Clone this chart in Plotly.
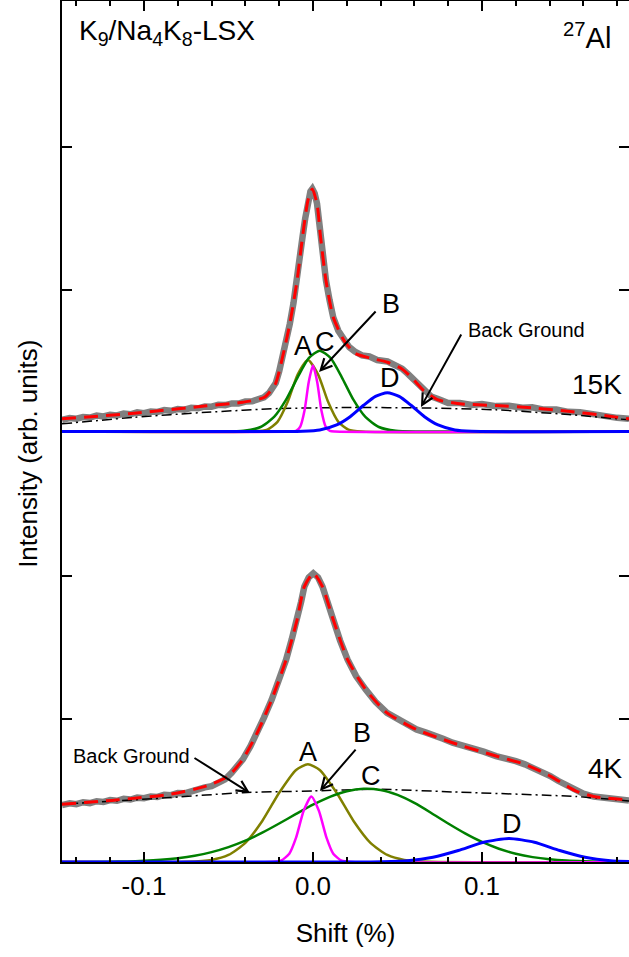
import plotly.graph_objects as go

# ---------------- data ----------------
OFFSET = 3.01   # vertical offset of the 15K spectrum
X_RANGE = [-0.1485, 0.187]
Y_RANGE = [0.0, 6.021]

# 15K measured data (gray)
up_data_x = [-0.1485, -0.144, -0.140, -0.136, -0.132, -0.128, -0.124, -0.120, -0.116, -0.112,
             -0.108, -0.104, -0.100, -0.096, -0.092, -0.088, -0.084, -0.080, -0.076, -0.072,
             -0.068, -0.064, -0.060, -0.056, -0.052, -0.048, -0.044, -0.040, -0.036, -0.032,
             -0.029, -0.026, -0.024, -0.022, -0.020, -0.018, -0.016, -0.0137, -0.0115, -0.0094,
             -0.0078, -0.0062, -0.0046, -0.0030, -0.0015, -0.0004, 0.0010, 0.0024, 0.0035, 0.0045,
             0.0060, 0.0077, 0.0098, 0.0120, 0.0150, 0.0184, 0.0215, 0.0248, 0.029, 0.0334,
             0.038, 0.0441, 0.049, 0.0527, 0.056, 0.0591, 0.062, 0.0655, 0.070, 0.0741,
             0.080, 0.0869, 0.094, 0.100, 0.1083, 0.116, 0.124, 0.1297, 0.136, 0.144,
             0.1511, 0.158, 0.166, 0.1725, 0.180, 0.187]
up_data_y = [0.082, 0.095, 0.090, 0.101, 0.098, 0.112, 0.106, 0.118, 0.113, 0.126,
             0.121, 0.134, 0.129, 0.141, 0.137, 0.150, 0.145, 0.158, 0.153, 0.166,
             0.163, 0.176, 0.174, 0.187, 0.185, 0.197, 0.196, 0.210, 0.212, 0.228,
             0.240, 0.270, 0.300, 0.340, 0.420, 0.520, 0.630, 0.753, 0.900, 1.056,
             1.210, 1.359, 1.490, 1.615, 1.680, 1.697, 1.665, 1.594, 1.480, 1.359,
             1.200, 1.056, 0.920, 0.799, 0.705, 0.636, 0.590, 0.560, 0.533, 0.525,
             0.500, 0.490, 0.460, 0.440, 0.405, 0.372, 0.330, 0.290, 0.245, 0.228,
             0.200, 0.200, 0.186, 0.192, 0.178, 0.180, 0.166, 0.170, 0.155, 0.154,
             0.138, 0.136, 0.118, 0.114, 0.096, 0.090]

# 15K fit (red dashed)
up_fit_x = [-0.1485, -0.1057, -0.0629, -0.0415, -0.0287, -0.0222, -0.0180, -0.0137, -0.0094, -0.0062,
            -0.0030, -0.0004, 0.0024, 0.0045, 0.0077, 0.0120, 0.0184, 0.0248, 0.0334, 0.0441,
            0.0527, 0.0591, 0.0655, 0.0741, 0.0869, 0.1083, 0.1297, 0.1511, 0.1725, 0.187]
up_fit_y = [0.089, 0.128, 0.180, 0.205, 0.240, 0.334, 0.520, 0.753, 1.056, 1.359,
            1.615, 1.697, 1.594, 1.359, 1.056, 0.799, 0.636, 0.548, 0.515, 0.485,
            0.438, 0.369, 0.287, 0.222, 0.194, 0.182, 0.166, 0.142, 0.112, 0.089]

# 15K background (dash-dot)
up_bg_x = [-0.1485, -0.1057, -0.0629, -0.0201, 0.0227, 0.0655, 0.1083, 0.1511, 0.187]
up_bg_y = [0.054, 0.100, 0.135, 0.161, 0.168, 0.165, 0.152, 0.119, 0.082]

# 15K components
up_A_x = [-0.150, -0.035, -0.027, -0.021, -0.015, -0.009, -0.003, 0.003, 0.009, 0.015, 0.021, 0.029, 0.190]
up_A_y = [0.0, 0.001, 0.014, 0.068, 0.206, 0.400, 0.500, 0.400, 0.206, 0.068, 0.014, 0.001, 0.0]
up_B_x = [-0.150, -0.013, -0.010, -0.0075, -0.005, -0.0025, 0.0, 0.0025, 0.005, 0.0075, 0.010, 0.013, 0.190]
up_B_y = [0.0, 0.0, 0.005, 0.035, 0.147, 0.347, 0.462, 0.347, 0.147, 0.035, 0.005, 0.0, 0.0]
up_C_x = [-0.150, -0.055, -0.041, -0.031, -0.023, -0.016, -0.009, -0.0025, 0.004, 0.0105, 0.017,
          0.024, 0.031, 0.039, 0.049, 0.063, 0.190]
up_C_y = [0.0, 0.0, 0.005, 0.032, 0.102, 0.221, 0.381, 0.513, 0.566, 0.513, 0.381,
          0.221, 0.102, 0.032, 0.005, 0.0, 0.0]
up_D_x = [-0.150, -0.016, -0.006, 0.004, 0.014, 0.022, 0.030, 0.037, 0.044, 0.051, 0.058,
          0.066, 0.074, 0.084, 0.094, 0.190]
up_D_y = [0.0, 0.0, 0.002, 0.011, 0.046, 0.104, 0.184, 0.246, 0.271, 0.246, 0.184,
          0.104, 0.046, 0.011, 0.002, 0.0]

# 4K measured data (gray)
lo_data_x = [-0.1485, -0.144, -0.140, -0.136, -0.132, -0.128, -0.124, -0.120, -0.116, -0.112,
             -0.108, -0.104, -0.100, -0.096, -0.092, -0.088, -0.084, -0.080, -0.076, -0.072,
             -0.068, -0.064, -0.060, -0.056, -0.052, -0.048, -0.0445, -0.0415, -0.037, -0.033,
             -0.029, -0.0244, -0.020, -0.0159, -0.0125, -0.0094, -0.007, -0.0051, -0.0025, 0.0002,
             0.0030, 0.0056, 0.0090, 0.0120, 0.0160, 0.0205, 0.0255, 0.0312, 0.037, 0.0438,
             0.0520, 0.0612, 0.067, 0.072, 0.077, 0.0826, 0.088, 0.095, 0.101, 0.1083,
             0.114, 0.120, 0.1254, 0.130, 0.135, 0.1404, 0.145, 0.150, 0.1554, 0.160,
             0.1661, 0.172, 0.177, 0.182, 0.187]
lo_data_y = [0.398, 0.410, 0.404, 0.418, 0.412, 0.425, 0.420, 0.433, 0.428, 0.442,
             0.437, 0.450, 0.446, 0.458, 0.455, 0.470, 0.467, 0.482, 0.480, 0.497,
             0.502, 0.522, 0.530, 0.556, 0.578, 0.625, 0.670, 0.718, 0.810, 0.903,
             1.010, 1.136, 1.280, 1.415, 1.560, 1.694, 1.820, 1.926, 1.990, 2.019,
             1.990, 1.926, 1.800, 1.694, 1.550, 1.415, 1.300, 1.206, 1.120, 1.043,
             0.985, 0.927, 0.905, 0.878, 0.862, 0.834, 0.818, 0.790, 0.772, 0.741,
             0.728, 0.705, 0.683, 0.660, 0.635, 0.601, 0.568, 0.535, 0.497, 0.478,
             0.458, 0.448, 0.445, 0.438, 0.430]

# 4K fit (red dashed)
lo_fit_x = [-0.1485, -0.1164, -0.0843, -0.0629, -0.0501, -0.0415, -0.0330, -0.0244, -0.0159, -0.0094,
            -0.0051, 0.0002, 0.0056, 0.0120, 0.0205, 0.0312, 0.0438, 0.0612, 0.0826, 0.1083,
            0.1254, 0.1404, 0.1554, 0.1661, 0.187]
lo_fit_y = [0.404, 0.434, 0.474, 0.532, 0.601, 0.718, 0.903, 1.136, 1.415, 1.694,
            1.926, 2.019, 1.926, 1.694, 1.415, 1.206, 1.043, 0.927, 0.834, 0.741,
            0.683, 0.601, 0.497, 0.458, 0.434]

# 4K background (dash-dot)
lo_bg_x = [-0.1485, -0.0843, -0.0415, 0.0002, 0.0366, 0.0827, 0.1554, 0.187]
lo_bg_y = [0.404, 0.451, 0.485, 0.497, 0.509, 0.490, 0.458, 0.427]

# 4K components
lo_A_x = [-0.150, -0.075, -0.060, -0.050, -0.040, -0.030, -0.020, -0.010, -0.003, 0.004, 0.014,
          0.024, 0.034, 0.044, 0.054, 0.069, 0.190]
lo_A_y = [0.0, 0.001, 0.014, 0.049, 0.134, 0.287, 0.484, 0.644, 0.683, 0.644, 0.484,
          0.287, 0.134, 0.049, 0.014, 0.001, 0.0]
lo_B_x = [-0.150, -0.025, -0.019, -0.014, -0.010, -0.0055, -0.001, 0.0035, 0.008, 0.012, 0.017, 0.023, 0.190]
lo_B_y = [0.0, 0.0, 0.009, 0.058, 0.170, 0.358, 0.458, 0.358, 0.170, 0.058, 0.009, 0.0, 0.0]
lo_C_x = [-0.150, -0.120, -0.110, -0.100, -0.090, -0.080, -0.070, -0.060, -0.050, -0.040,
          -0.030, -0.020, -0.010, 0.000, 0.010, 0.020, 0.030, 0.040, 0.050, 0.060,
          0.070, 0.080, 0.090, 0.100, 0.110, 0.120, 0.130, 0.140, 0.150, 0.160,
          0.170, 0.180, 0.190]
lo_C_y = [0.0, 0.002, 0.004, 0.008, 0.015, 0.026, 0.043, 0.069, 0.104, 0.149,
          0.205, 0.269, 0.336, 0.401, 0.456, 0.495, 0.512, 0.504, 0.469, 0.413,
          0.343, 0.269, 0.200, 0.140, 0.093, 0.058, 0.034, 0.019, 0.010, 0.005,
          0.002, 0.001, 0.0]
lo_D_x = [-0.150, 0.030, 0.041, 0.056, 0.071, 0.086, 0.101, 0.116, 0.131, 0.146, 0.161, 0.176, 0.190]
lo_D_y = [0.0, 0.0, 0.002, 0.009, 0.033, 0.080, 0.138, 0.165, 0.138, 0.080, 0.033, 0.009, 0.002]

# ---------------- styles ----------------
GRAY = '#808080'
RED = '#FF0000'
OLIVE = '#808000'
GREEN = '#008000'
MAGENTA = '#FF00FF'
BLUE = '#0000FF'
FONT = 'Liberation Sans, Arial, sans-serif'

fig = go.Figure()


def add(x, y, color, width, dash=None, shape='spline', off=0.0):
    fig.add_trace(go.Scatter(
        x=x, y=[v + off for v in y], mode='lines',
        line=dict(color=color, width=width, dash=dash, shape=shape, smoothing=0.6),
        showlegend=False, hoverinfo='skip'))


for (dx, dy, fx, fy, bx, by, ax_, ay_, cx, cy, bbx, bby, ddx, ddy, off) in [
    (lo_data_x, lo_data_y, lo_fit_x, lo_fit_y, lo_bg_x, lo_bg_y,
     lo_A_x, lo_A_y, lo_C_x, lo_C_y, lo_B_x, lo_B_y, lo_D_x, lo_D_y, 0.0),
    (up_data_x, up_data_y, up_fit_x, up_fit_y, up_bg_x, up_bg_y,
     up_A_x, up_A_y, up_C_x, up_C_y, up_B_x, up_B_y, up_D_x, up_D_y, OFFSET),
]:
    add(dx, dy, GRAY, 6.5, shape='linear', off=off)
    add(bx, by, 'black', 1.5, dash='10px,4px,2px,4px', off=off)
    add(fx, fy, RED, 3, dash='14px,8px', off=off)
    add(ax_, ay_, OLIVE, 2.5, off=off)
    add(cx, cy, GREEN, 2.5, off=off)
    add(bbx, bby, MAGENTA, 2.5, off=off)
    add(ddx, ddy, BLUE, 3, off=off)

# dummy trace for right-side mirrored ticks
fig.add_trace(go.Scatter(x=[None], y=[None], yaxis='y2', showlegend=False, hoverinfo='skip'))


def lab(x, y, text, size=27, xanchor='center'):
    fig.add_annotation(x=x, y=y, xref='x', yref='y', text=text, showarrow=False,
                       font=dict(size=size, family=FONT, color='black'), xanchor=xanchor, yanchor='middle')


def arrow(tx, ty, hx, hy):
    fig.add_annotation(x=hx, y=hy, ax=tx, ay=ty, xref='x', yref='y', axref='x', ayref='y',
                       text='', showarrow=True, arrowhead=5, arrowsize=1.1, arrowwidth=2,
                       arrowcolor='black', standoff=0, startstandoff=0)


# labels (upper panel)
lab(-0.0059, 3.608, 'A')
lab(0.0071, 3.636, 'C')
lab(0.0462, 3.902, 'B')
lab(0.0456, 3.385, 'D')
lab(0.1266, 3.720, 'Back Ground', size=20)
lab(0.168, 3.336, '15K', size=28)
arrow(0.0379, 3.860, 0.0036, 3.427)
arrow(0.0882, 3.699, 0.0639, 3.182)

# labels (lower panel)
lab(-0.0030, 0.769, 'A')
lab(0.0290, 0.902, 'B')
lab(0.0343, 0.601, 'C')
lab(0.1178, 0.266, 'D')
lab(-0.1071, 0.741, 'Back Ground', size=20)
lab(0.1728, 0.657, '4K', size=28)
arrow(0.0260, 0.797, 0.0041, 0.497)
arrow(-0.0710, 0.734, -0.0373, 0.483)

# title-like labels
lab(-0.1396, 5.80, 'K<sub>9</sub>/Na<sub>4</sub>K<sub>8</sub>-LSX', size=28, xanchor='left')
lab(0.1775, 5.775, '<sup>27</sup>Al', size=29, xanchor='right')

# y-axis title
fig.add_annotation(x=-0.06, y=0.474, xref='paper', yref='paper', text='Intensity (arb. units)',
                   textangle=-90, showarrow=False, font=dict(size=26, family=FONT, color='black'),
                   xanchor='center', yanchor='middle')

fig.update_layout(
    width=629, height=957,
    margin=dict(l=62, r=0, t=1, b=95),
    paper_bgcolor='white', plot_bgcolor='white',
    showlegend=False,
    font=dict(family=FONT, size=26, color='black'),
    xaxis=dict(range=X_RANGE, tickmode='array', tickvals=[-0.1, 0.0, 0.1],
               ticktext=['-0.1', '0.0', '0.1'], ticks='inside', ticklen=10, tickwidth=2,
               tickcolor='black', showline=True, linewidth=2, linecolor='black', mirror='ticks',
               showgrid=False, zeroline=False, tickfont=dict(size=26),
               minor=dict(tickmode='linear', tick0=0, dtick=0.02, ticks='inside', ticklen=5,
                          tickwidth=1.5, tickcolor='black', showgrid=False),
               title=dict(text='Shift (%)', font=dict(size=26), standoff=24)),
    yaxis=dict(range=Y_RANGE, tickmode='array', tickvals=[1, 2, 4, 5], showticklabels=False,
               ticks='inside', ticklen=10, tickwidth=2, tickcolor='black', showline=True,
               linewidth=2, linecolor='black', showgrid=False, zeroline=False),
    yaxis2=dict(overlaying='y', side='right', range=Y_RANGE, tickmode='array', tickvals=[1, 2, 4, 5],
                showticklabels=False, ticks='inside', ticklen=10, tickwidth=2, tickcolor='black',
                showline=False, showgrid=False, zeroline=False),
)

fig.write_html('out.html')
